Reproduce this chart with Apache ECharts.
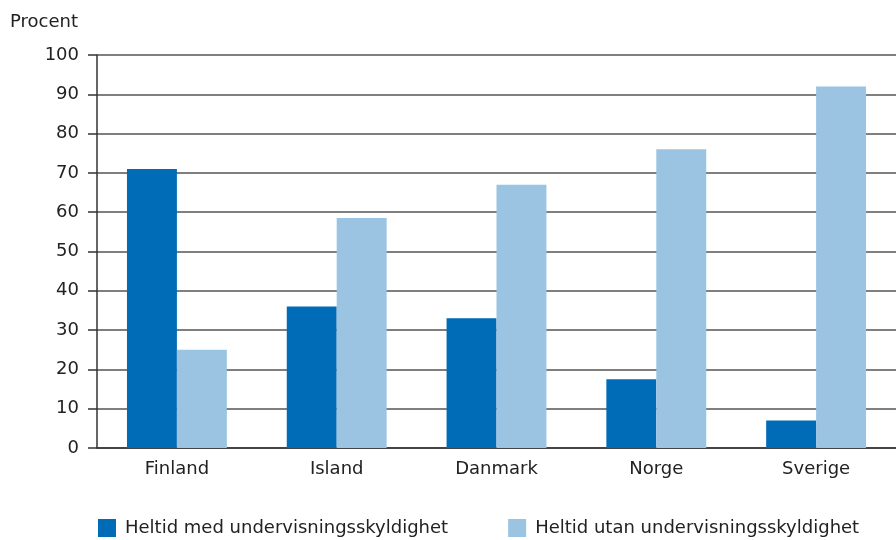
<!DOCTYPE html>
<html>
<head>
<meta charset="utf-8">
<script src="https://cdn.jsdelivr.net/npm/echarts@6/dist/echarts.min.js"></script>
<style>
  html, body { margin: 0; padding: 0; background: #fff; }
  #chart { width: 896px; height: 540px; }
</style>
</head>
<body>
<div id="chart"></div>
<script>
// data
var countries = ['Finland', 'Island', 'Danmark', 'Norge', 'Sverige'];
var medSkyldighet = [71, 36, 33, 17.5, 7];
var utanSkyldighet = [25, 58.5, 67, 76, 92];
var seriesNames = ['Heltid med undervisningsskyldighet', 'Heltid utan undervisningsskyldighet'];

var font = 'DejaVu Sans';
var chart = echarts.init(document.getElementById('chart'));
chart.setOption({
    animation: false,
    textStyle: { fontFamily: font },
    grid: { left: 97, right: -1, top: 55, bottom: 92 },
    legend: {
        top: 514,
        left: 93,
        itemWidth: 18,
        itemHeight: 18,
        itemGap: 60,
        icon: 'rect',
        textStyle: { fontSize: 18, color: '#222', fontFamily: font, padding: [0, 0, 0, 4] },
        data: seriesNames
    },
    xAxis: {
        type: 'category',
        data: countries,
        axisLine: { lineStyle: { color: '#333', width: 1.5 } },
        axisTick: { length: 8, lineStyle: { color: '#333', width: 1.5 } },
        axisLabel: { fontSize: 18, color: '#222', margin: 12 }
    },
    yAxis: {
        type: 'value',
        name: 'Procent',
        nameLocation: 'end',
        nameGap: 24,
        nameTextStyle: { fontSize: 18, color: '#222', align: 'right', padding: [0, 19, 0, 0] },
        min: 0,
        max: 100,
        interval: 10,
        axisLine: { show: true, lineStyle: { color: '#333', width: 1.5 } },
        axisTick: { show: true, length: 9, lineStyle: { color: '#333', width: 1.5 } },
        axisLabel: { fontSize: 18, color: '#222', margin: 18 },
        splitLine: { lineStyle: { color: '#555', width: 1.5 } }
    },
    series: [
        {
            name: seriesNames[0],
            type: 'bar',
            data: medSkyldighet,
            barGap: '0%',
            barCategoryGap: '37.5%',
            itemStyle: { color: '#006BB6' }
        },
        {
            name: seriesNames[1],
            type: 'bar',
            data: utanSkyldighet,
            barGap: '0%',
            barCategoryGap: '37.5%',
            itemStyle: { color: '#9AC4E2' }
        }
    ]
});
</script>
</body>
</html>
